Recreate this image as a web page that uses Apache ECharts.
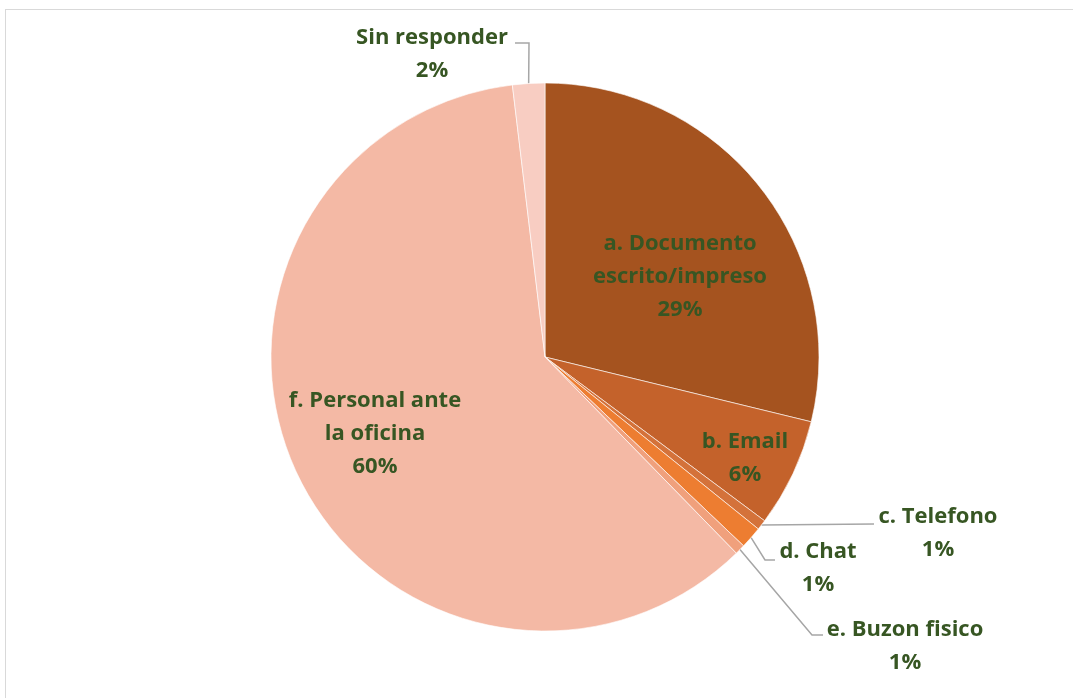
<!DOCTYPE html>
<html>
<head>
<meta charset="utf-8">
<script src="https://cdn.jsdelivr.net/npm/echarts@6/dist/echarts.min.js"></script>
<style>
  html, body { margin: 0; padding: 0; background: #fff; }
  #frame {
    position: absolute; left: 5px; top: 9px; width: 1100px; height: 720px;
    border: 1px solid #d9d9d9; box-sizing: border-box;
  }
  #chart { position: absolute; left: 0; top: 0; width: 1073px; height: 698px; }
</style>
</head>
<body>
<div id="frame"></div>
<div id="chart"></div>
<script>
// categories in drawing order, clockwise from 12 o'clock
const categories = [
  "a. Documento escrito/impreso",
  "b. Email",
  "c. Telefono",
  "d. Chat",
  "e. Buzon fisico",
  "f. Personal ante la oficina",
  "Sin responder",
];
// how Excel wrapped each label
const labelNames = [
  "a. Documento\nescrito/impreso",
  "b. Email",
  "c. Telefono",
  "d. Chat",
  "e. Buzon fisico",
  "f. Personal ante\nla oficina",
  "Sin responder",
];
// share of answers, percent
const values = [28.8, 6.4, 0.6, 1.3, 0.6, 60.4, 1.9];
const colors = ["#a5531f", "#c4622b", "#d4723a", "#ed7d31", "#f0a07c", "#f4b9a5", "#f8cdc2"];

// label anchors (center of text block) and leader line bends/ends
const labelPos = [
  { x: 680, y: 277 },
  { x: 745, y: 458 },
  { x: 938, y: 533, bend: null, end: [874, 524] },
  { x: 818, y: 568, bend: [765, 560], end: [775, 560] },
  { x: 905, y: 646, bend: [812, 635], end: [823, 635] },
  { x: 375, y: 434 },
  { x: 432, y: 54, bend: [529, 43], end: [515, 43] },
];
const outside = [false, false, true, true, true, false, true];

const chart = echarts.init(document.getElementById("chart"), null, { renderer: "canvas" });

chart.setOption({
  animation: false,
  series: [
    {
      type: "pie",
      center: [545, 357],
      radius: 274,
      startAngle: 90,
      clockwise: true,
      avoidLabelOverlap: false,
      percentPrecision: 1,
      itemStyle: { borderColor: "rgba(255,255,255,0.6)", borderWidth: 1 },
      label: {
        formatter: (p) => labelNames[p.dataIndex] + "\n" + Math.round(p.percent) + "%",
        color: "#375623",
        fontFamily: "'Open Sans', 'Liberation Sans', sans-serif",
        fontWeight: "bold",
        fontSize: 22,
        lineHeight: 33,
        align: "center",
      },
      labelLine: { lineStyle: { color: "#a6a6a6", width: 1.5 }, length: 10, length2: 10 },
      labelLayout: (p) => {
        const pos = labelPos[p.dataIndex];
        const out = { x: pos.x, y: pos.y, align: "center", verticalAlign: "middle" };
        if (outside[p.dataIndex] && p.labelLinePoints) {
          const start = p.labelLinePoints[0];
          out.labelLinePoints = pos.bend ? [start, pos.bend, pos.end] : [start, pos.end];
        }
        return out;
      },
      data: categories.map((name, i) => ({
        name,
        value: values[i],
        itemStyle: { color: colors[i] },
        label: { position: outside[i] ? "outside" : "inside" },
        labelLine: { show: outside[i] },
      })),
    },
  ],
});
</script>
</body>
</html>
